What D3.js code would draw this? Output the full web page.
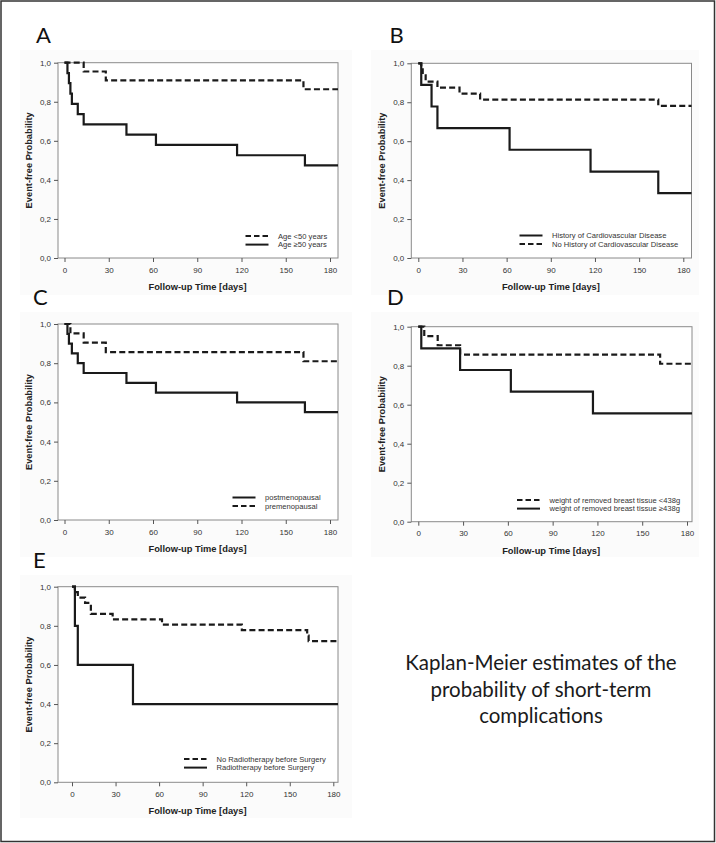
<!DOCTYPE html>
<html>
<head>
<meta charset="utf-8">
<script src="https://cdn.jsdelivr.net/npm/d3@7"></script>
<style>
  html, body { margin: 0; padding: 0; background: #fff; }
  svg { display: block; }
</style>
</head>
<body>
<svg id="chart" width="716" height="843"></svg>
<script>
// ---------------- DATA ----------------
const xTicks = [0, 30, 60, 90, 120, 150, 180];
const yTicks = [0, 0.2, 0.4, 0.6, 0.8, 1.0];
const yTickLabels = ["0,0", "0,2", "0,4", "0,6", "0,8", "1,0"];
const xAxisTitle = "Follow-up Time [days]";
const yAxisTitle = "Event-free Probability";
const panelLetters = ["A", "B", "C", "D", "E"];

// Panel A
const aLabels = ["Age <50 years", "Age \u226550 years"];
const aDashTimes = [13, 28, 162];
const aDashSurv = [0.955, 0.909, 0.864];
const aSolidTimes = [2, 3, 4, 5, 9, 13, 42, 62, 117, 163];
const aSolidSurv = [0.947, 0.895, 0.842, 0.789, 0.737, 0.684, 0.632, 0.579, 0.526, 0.474];

// Panel B
const bLabels = ["History of Cardiovascular Disease", "No History of Cardiovascular Disease"];
const bSolidTimes = [2, 9, 13, 62, 117, 163];
const bSolidSurv = [0.889, 0.778, 0.667, 0.556, 0.444, 0.333];
const bDashTimes = [2, 3, 5, 13, 28, 42, 163];
const bDashSurv = [0.969, 0.938, 0.906, 0.875, 0.844, 0.813, 0.781];

// Panel C
const cLabels = ["postmenopausal", "premenopausal"];
const cSolidTimes = [2, 3, 5, 9, 13, 42, 62, 117, 163];
const cSolidSurv = [0.95, 0.90, 0.85, 0.80, 0.75, 0.70, 0.65, 0.60, 0.55];
const cDashTimes = [4, 13, 28, 162];
const cDashSurv = [0.952, 0.905, 0.857, 0.810];

// Panel D
const dLabels = ["weight of removed breast tissue <438g", "weight of removed breast tissue \u2265438g"];
const dDashTimes = [4, 13, 28, 162];
const dDashSurv = [0.952, 0.905, 0.857, 0.810];
const dSolidTimes = [2, 28, 62, 117];
const dSolidSurv = [0.889, 0.778, 0.667, 0.556];

// Panel E
const eLabels = ["No Radiotherapy before Surgery", "Radiotherapy before Surgery"];
const eDashTimes = [2, 4, 9, 13, 28, 62, 117, 162, 163];
const eDashSurv = [0.972, 0.944, 0.917, 0.861, 0.833, 0.806, 0.778, 0.750, 0.722];
const eSolidTimes = [2, 4, 42];
const eSolidSurv = [0.8, 0.6, 0.4];

const descriptionLines = ["Kaplan-Meier estimates of the", "probability of short-term", "complications"];

// ---------------- LAYOUT ----------------
const svg = d3.select("#chart");
const DASH = "6,3.2";

// outer border
svg.append("rect").attr("x", 1).attr("y", 1).attr("width", 713.5).attr("height", 840.5)
  .attr("fill", "none").attr("stroke", "#333").attr("stroke-width", 1.5);

const panels = [
  { letter: panelLetters[0], L: 58, T: 62.7, R: 338, B: 258, x0: 64.5, x180: 330,
    letterX: 36, letterY: 43, yLabX: 28.5, bg: [20, 50, 332, 245],
    series: [
      { label: aLabels[0], times: aDashTimes, surv: aDashSurv, dash: true },
      { label: aLabels[1], times: aSolidTimes, surv: aSolidSurv, dash: false }],
    legX: 245.5, legY: 236 },
  { letter: panelLetters[1], L: 411.3, T: 63.3, R: 691.5, B: 258, x0: 418.3, x180: 683.3,
    letterX: 389.5, letterY: 43, yLabX: 381.5, bg: [371, 50, 328, 245],
    series: [
      { label: bLabels[0], times: bSolidTimes, surv: bSolidSurv, dash: false },
      { label: bLabels[1], times: bDashTimes, surv: bDashSurv, dash: true }],
    legX: 519.5, legY: 235.5 },
  { letter: panelLetters[2], L: 58, T: 324, R: 338, B: 520, x0: 64.5, x180: 330,
    letterX: 33, letterY: 305, yLabX: 28.5, bg: [20, 312, 332, 245],
    series: [
      { label: cLabels[0], times: cSolidTimes, surv: cSolidSurv, dash: false },
      { label: cLabels[1], times: cDashTimes, surv: cDashSurv, dash: true }],
    legX: 232.5, legY: 497.5 },
  { letter: panelLetters[3], L: 411.3, T: 326.7, R: 692, B: 521.7, x0: 418.3, x180: 687,
    letterX: 387, letterY: 305, yLabX: 381.5, bg: [371, 312, 328, 245],
    series: [
      { label: dLabels[0], times: dDashTimes, surv: dDashSurv, dash: true },
      { label: dLabels[1], times: dSolidTimes, surv: dSolidSurv, dash: false }],
    legX: 517, legY: 500 },
  { letter: panelLetters[4], L: 58, T: 586.7, R: 338, B: 782.3, x0: 72, x180: 333.3,
    letterX: 33, letterY: 568, yLabX: 28.5, bg: [20, 575, 332, 243],
    series: [
      { label: eLabels[0], times: eDashTimes, surv: eDashSurv, dash: true },
      { label: eLabels[1], times: eSolidTimes, surv: eSolidSurv, dash: false }],
    legX: 184, legY: 759 }
];

panels.forEach(p => {
  const g = svg.append("g");
  // very subtle panel background
  g.append("rect").attr("x", p.bg[0]).attr("y", p.bg[1]).attr("width", p.bg[2]).attr("height", p.bg[3])
    .attr("fill", "#fbfbfb");

  const x = d3.scaleLinear().domain([0, 180]).range([p.x0, p.x180]);
  const y = d3.scaleLinear().domain([0, 1]).range([p.B, p.T]);
  const xEnd = x.invert(p.R);

  // plot area
  g.append("rect").attr("x", p.L).attr("y", p.T).attr("width", p.R - p.L).attr("height", p.B - p.T)
    .attr("fill", "#fff").attr("stroke", "#8a8a8a").attr("stroke-width", 1);

  // y axis
  const yAxis = d3.axisLeft(y).tickValues(yTicks).tickSize(4).tickPadding(3)
    .tickFormat((d, i) => yTickLabels[i]);
  const ya = g.append("g").attr("transform", `translate(${p.L},0)`).call(yAxis);
  // x axis
  const xAxis = d3.axisBottom(x).tickValues(xTicks).tickSize(4).tickPadding(5);
  const xa = g.append("g").attr("transform", `translate(0,${p.B})`).call(xAxis);
  [ya, xa].forEach(a => {
    a.select(".domain").remove();
    a.selectAll(".tick line").attr("stroke", "#555");
    a.selectAll("text").attr("font-family", "Liberation Sans, Arial, sans-serif")
      .attr("font-size", 8).attr("fill", "#333");
  });

  // axis titles
  g.append("text").attr("x", (p.L + p.R) / 2 - 0.5).attr("y", p.B + 32)
    .attr("text-anchor", "middle").attr("font-family", "Liberation Sans, Arial, sans-serif")
    .attr("font-weight", "bold").attr("font-size", 9.3).attr("fill", "#222").text(xAxisTitle);
  g.append("text").attr("transform", `translate(${p.yLabX + 3},${(p.T + p.B) / 2}) rotate(-90)`)
    .attr("text-anchor", "middle").attr("font-family", "Liberation Sans, Arial, sans-serif")
    .attr("font-weight", "bold").attr("font-size", 9.3).attr("fill", "#222").text(yAxisTitle);

  // panel letter
  g.append("text").attr("x", p.letterX).attr("y", p.letterY)
    .attr("font-family", "Lato, 'Open Sans', sans-serif").attr("font-size", 22).attr("fill", "#111")
    .text(p.letter);

  // curves
  const line = d3.line().x(d => x(d[0])).y(d => y(d[1])).curve(d3.curveStepAfter);
  p.series.forEach(s => {
    const pts = [[0, 1]];
    s.times.forEach((t, i) => pts.push([t, s.surv[i]]));
    pts.push([xEnd, s.surv[s.surv.length - 1]]);
    g.append("path").attr("d", line(pts)).attr("fill", "none")
      .attr("stroke", "#1a1a1a").attr("stroke-width", 2.2)
      .attr("stroke-dasharray", s.dash ? DASH : null);
  });

  // legend
  p.series.forEach((s, i) => {
    const ly = p.legY + i * 8.6;
    g.append("line").attr("x1", p.legX).attr("x2", p.legX + 23).attr("y1", ly).attr("y2", ly)
      .attr("stroke", "#1a1a1a").attr("stroke-width", 2)
      .attr("stroke-dasharray", s.dash ? "5.5,3" : null);
    g.append("text").attr("x", p.legX + 32.5).attr("y", ly + 2.8)
      .attr("font-family", "Liberation Sans, Arial, sans-serif").attr("font-size", 7.6)
      .attr("fill", "#333").text(s.label);
  });
});

// description text
svg.append("g").selectAll("text").data(descriptionLines).join("text")
  .attr("x", 541).attr("y", (d, i) => 670 + i * 26.7)
  .attr("text-anchor", "middle").attr("font-family", "Lato, 'Open Sans', sans-serif")
  .attr("font-size", 20.5).attr("fill", "#1a1a1a").text(d => d);
</script>
</body>
</html>
